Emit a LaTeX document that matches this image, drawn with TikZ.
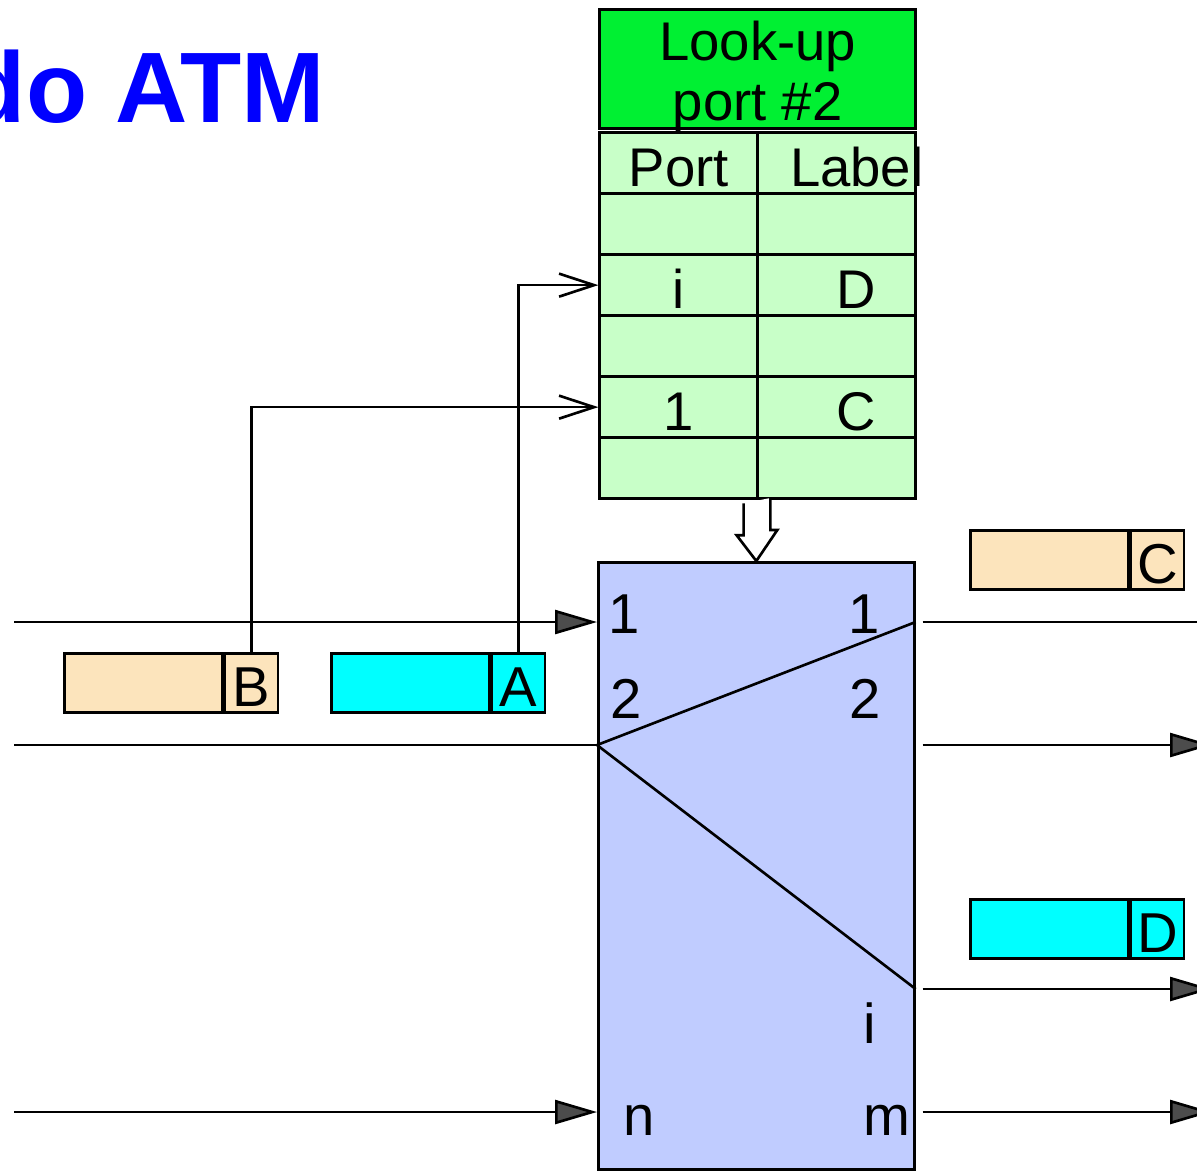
\documentclass[tikz,border=0pt]{standalone}
\usepackage{fontspec}
\setmainfont{Liberation Sans}
\usetikzlibrary{matrix,positioning,arrows.meta}

\definecolor{lookupgreen}{RGB}{0,240,50}
\definecolor{rowgreen}{RGB}{200,255,200}
\definecolor{switchblue}{RGB}{192,204,255}
\definecolor{cellwheat}{RGB}{252,228,188}
\definecolor{cellcyan}{RGB}{0,255,255}
\definecolor{atmblue}{RGB}{0,0,255}

\newcommand\lutfont{\fontsize{31}{34}\selectfont}
\newcommand\portfont{\fontsize{32}{36}\selectfont}
\newcommand\lcol[1]{\makebox[3.16cm][c]{#1}}
\newcommand\rcol[1]{\makebox[3.16cm][c]{\hspace*{0.8cm}#1}}

\tikzset{
  lutcell/.style={draw, fill=rowgreen, minimum width=3.16cm, minimum height=1.22cm,
    inner sep=0pt, text height=0.92cm, text depth=0pt, font=\lutfont},
  lutheader/.style={draw, fill=lookupgreen, minimum width=6.32cm, minimum height=2.38cm},
  switchbox/.style={draw, fill=switchblue, minimum width=6.32cm, minimum height=12.14cm},
  cellbody/.style={draw, minimum width=3.16cm, minimum height=1.18cm, inner sep=0pt},
  celltag/.style={draw, minimum width=1.06cm, minimum height=1.18cm, inner sep=0pt,
    text height=0.94cm, text depth=0pt, font=\portfont},
  portlabel/.style={anchor=base, inner sep=0pt, font=\portfont},
  wire/.style={},
  port in/.style={-{Triangle[length=0.84cm, width=0.48cm, fill=black!70]}},
  port out/.style={-{Triangle[length=0.84cm, width=0.48cm, fill=black!70]}, shorten <=1.4mm},
  lookup/.style={-{Straight Barb[length=0.7cm, width=0.46cm]}},
}

\begin{document}
\begin{tikzpicture}[x=0.2mm, y=-0.2mm, line width=1.5pt]
  \useasboundingbox (0,0) rectangle (1197,1170);

  % title
  \node (title) [anchor=base east, inner sep=0pt, text=atmblue,
    font=\fontsize{57}{60}\selectfont\bfseries] at (326,122) {do ATM};

  % look-up table
  \matrix (lut) [matrix of nodes, nodes in empty cells, anchor=north west, inner sep=0pt,
    nodes={lutcell}, column sep=-\pgflinewidth, row sep=-\pgflinewidth] at (597,130) {
    \lcol{Port} & \rcol{Label} \\
    \lcol{}     & \rcol{}      \\
    \lcol{i}    & \rcol{D}     \\
    \lcol{}     & \rcol{}      \\
    \lcol{1}    & \rcol{C}     \\
    \lcol{}     & \rcol{}      \\
  };
  \node (hdr) [lutheader, anchor=south] at (lut.north) {};
  \node (hdrtext) [align=center, font=\lutfont] at ([yshift=-1.5mm]hdr.center) {Look-up\\port \#2};

  % switch
  \node (sw) [switchbox, anchor=north west] at (597,561) {};
  \draw[fill=white] (lut.south) ++(-14,2) -- ++(0,32) -- ++(-7,0) -- (sw.north)
    -- ++(21,-31) -- ++(-7,0) -- ++(0,-32);

  \node[portlabel] (sw-in1)  at (624,633)  {1};
  \node[portlabel] (sw-in2)  at (626,718)  {2};
  \node[portlabel] (sw-inn)  at (639,1135) {n};
  \node[portlabel] (sw-out1) at (864,633)  {1};
  \node[portlabel] (sw-out2) at (865,718)  {2};
  \node[portlabel] (sw-outi) at (870,1043) {i};
  \node[portlabel] (sw-outm) at (887,1135) {m};

  % ports
  \coordinate (in1)  at (14,622);
  \coordinate (in2)  at (14,745);
  \coordinate (inn)  at (14,1112);
  \coordinate (out1) at (1245,622);
  \coordinate (out2) at (1212,745);
  \coordinate (outi) at (1212,989);
  \coordinate (outm) at (1212,1112);

  \draw[port in] (in1) -- (in1 -| sw.west);
  \draw[wire]    (in2) -- (in2 -| sw.west);
  \draw[port in] (inn) -- (inn -| sw.west);
  \draw[port out] (sw.east |- out1) -- (out1);
  \draw[port out] (sw.east |- out2) -- (out2);
  \draw[port out] (sw.east |- outi) -- (outi);
  \draw[port out] (sw.east |- outm) -- (outm);

  \draw[wire] (in2 -| sw.west) -- (out1 -| sw.east);
  \draw[wire] (in2 -| sw.west) -- (outi -| sw.east);

  % cells
  \node (b-body) [cellbody, fill=cellwheat, anchor=north west] at (63,652) {};
  \node (b-tag)  [celltag, fill=cellwheat, right=0pt of b-body] {B};
  \node (a-body) [cellbody, fill=cellcyan, anchor=north west] at (330,652) {};
  \node (a-tag)  [celltag, fill=cellcyan, right=0pt of a-body] {A};
  \node (c-body) [cellbody, fill=cellwheat, anchor=north west] at (969,529) {};
  \node (c-tag)  [celltag, fill=cellwheat, right=0pt of c-body] {C};
  \node (d-body) [cellbody, fill=cellcyan, anchor=north west] at (969,898) {};
  \node (d-tag)  [celltag, fill=cellcyan, right=0pt of d-body] {D};

  \draw[lookup] (b-tag.north) |- (lut-5-1.west);
  \draw[lookup] (a-tag.north) |- (lut-3-1.west);
\end{tikzpicture}
\end{document}
